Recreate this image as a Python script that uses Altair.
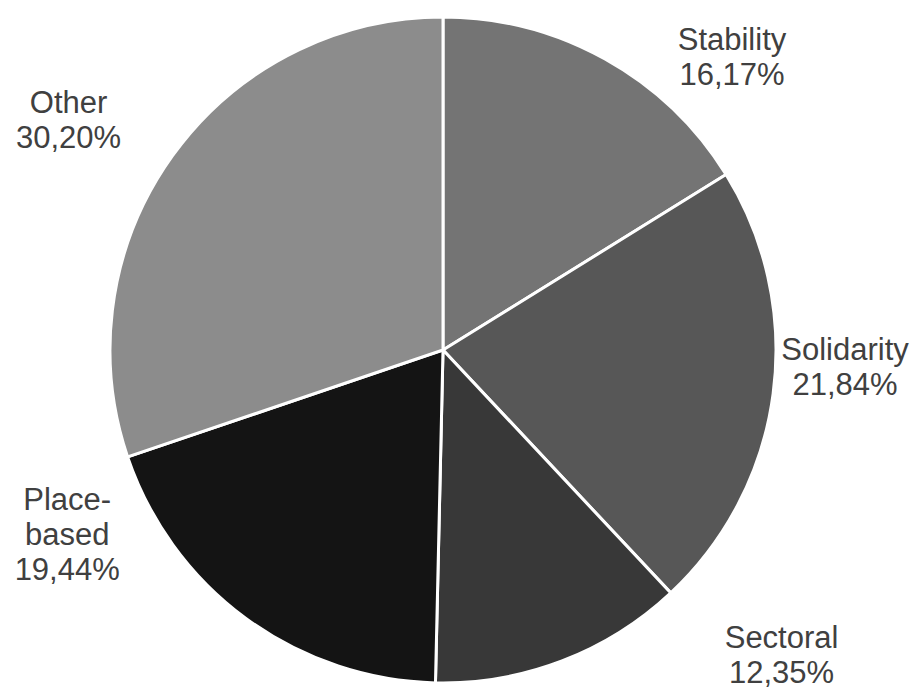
import altair as alt
import pandas as pd

# ---- data ----
categories = ["Stability", "Solidarity", "Sectoral", "Place-based", "Other"]
shares = [16.17, 21.84, 12.35, 19.44, 30.20]
label_lines = ["Stability", "Solidarity", "Sectoral", "Place-\nbased", "Other"]

# ---- styling / layout ----
fills = ["#747474", "#575757", "#383838", "#141414", "#8c8c8c"]
# where each label's first line sits: percent-of-circle along the pie and radial pixels
label_anchor_pct = [11.97, 25.04, 36.24, 68.92, 84.25]
label_radius_px = [423, 402, 445, 405, 448]

df = pd.DataFrame({
    "category": categories,
    "share": shares,
    "order": list(range(len(categories))),
})

lab = pd.DataFrame({
    "category": categories,
    "text": [f"{l}\n{v:.2f}%".replace(".", ",") for l, v in zip(label_lines, shares)],
    "at": label_anchor_pct,
    "r": label_radius_px,
})

pie = alt.Chart(df).mark_arc(outerRadius=333, stroke="white", strokeWidth=3).encode(
    theta=alt.Theta("share:Q", stack=True, scale=alt.Scale(domain=[0, 100])),
    order=alt.Order("order:Q"),
    color=alt.Color("category:N", scale=alt.Scale(domain=categories, range=fills), legend=None),
)

labels = alt.Chart(lab).mark_text(
    font="Liberation Sans", fontSize=31, lineHeight=35, color="#404040",
    align="center", baseline="middle", lineBreak="\n",
).encode(
    theta=alt.Theta("at:Q", stack=None, scale=alt.Scale(domain=[0, 100])),
    radius=alt.Radius("r:Q", scale=None),
    text="text:N",
)

chart = alt.layer(pie, labels).properties(
    width=886, height=676,
    autosize=alt.AutoSizeParams(type="none"),
    padding={"left": 0, "top": 12, "right": 28, "bottom": 0},
).configure_view(stroke=None).configure(background="white")

chart.save("out.html", embed_options={"renderer": "svg", "actions": False})
